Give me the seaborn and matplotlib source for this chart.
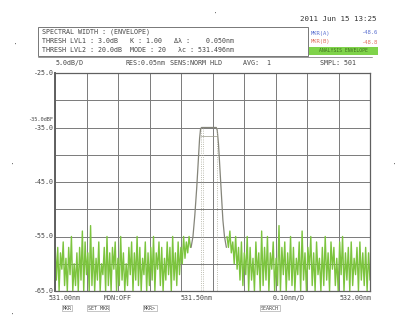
import numpy as np
import pandas as pd
import matplotlib.pyplot as plt
import seaborn as sns
from matplotlib.patches import Rectangle

# Trace levels (dBm), noise floor left and right of the line.
noise_left = [
    -56, -63, -57, -65, -58, -61, -56, -64, -59, -65,
    -57, -62, -55, -65, -60, -64, -58, -65, -57, -63,
    -54, -65, -56, -62, -58, -65, -53, -64, -57, -65,
    -59, -63, -56, -65, -60, -62, -57, -65, -55, -64,
    -58, -65, -57, -61, -56, -65, -59, -64, -55, -63,
    -58, -65, -60, -64, -57, -62, -56, -65, -58, -63,
    -55, -64, -57, -65, -59, -62, -56, -65, -58, -64,
    -57, -63, -55, -65, -58, -61, -56, -64, -57, -65,
    -59, -63, -56, -62, -57, -65, -55, -63, -58, -64,
    -56, -62, -57, -60, -55, -59, -56, -58, -55, -57,
]
noise_right = [
    -55, -57, -54, -58, -56, -60, -55, -61, -57, -63,
    -56, -64, -58, -62, -55, -65, -57, -63, -59, -65,
    -56, -62, -58, -65, -54, -64, -57, -63, -55, -65,
    -58, -61, -56, -65, -59, -64, -53, -65, -57, -62,
    -56, -65, -58, -63, -55, -64, -57, -65, -59, -62,
    -56, -65, -54, -63, -58, -65, -57, -61, -55, -64,
    -58, -65, -56, -62, -59, -65, -57, -64, -55, -63,
    -58, -65, -56, -61, -57, -64, -59, -65, -56, -62,
    -55, -65, -58, -63, -57, -65, -56, -64, -59, -62,
    -57, -65, -56, -63, -58, -64, -57, -65, -58, -63,
]
peak_wl = [531.432, 531.438, 531.444, 531.450, 531.455, 531.459, 531.462,
           531.465, 531.480, 531.500, 531.512, 531.515, 531.519, 531.523,
           531.528, 531.533, 531.538, 531.544]
peak_lvl = [-57, -55, -51, -46, -41, -37, -35.3,
            -35, -35, -35, -35, -35.5, -38, -42,
            -47, -52, -55, -57]

y_ticks = [-25, -35, -45, -55, -65]
y_ticklabels = ["-25.0", "-35.0", "-45.0", "-55.0", "-65.0"]
x_labels = ["531.00nm", "MON:OFF", "531.50nm", "0.10nm/D", "532.00nm"]

wl_left = np.linspace(531.0, 531.43, len(noise_left))
wl_right = np.linspace(531.546, 532.0, len(noise_right))

noise = pd.DataFrame({
    "wl": np.concatenate([wl_left, wl_right]),
    "lvl": noise_left + noise_right,
    "part": ["L"] * len(noise_left) + ["R"] * len(noise_right),
})
peak = pd.DataFrame({"wl": peak_wl, "lvl": peak_lvl})

sns.set_style("white")
plt.rcParams["font.family"] = ["DejaVu Sans Mono", "DejaVu Sans"]

fig = plt.figure(figsize=(4.09, 3.18), dpi=100)
ax = fig.add_axes([55 / 409, 27 / 318, 315 / 409, 218 / 318])

sns.lineplot(data=noise, x="wl", y="lvl", units="part", estimator=None, sort=False,
             color="#7cc43e", lw=1.0, ax=ax)
sns.lineplot(data=peak, x="wl", y="lvl", estimator=None, sort=False,
             color="#85857a", lw=0.9, ax=ax)

# spectral width marker lines
for w in [531.462, 531.471, 531.515]:
    ax.plot([w, w], [-35, -65], color="#a8a898", lw=0.6, ls=":")
ax.plot([531.462, 531.515], [-36.5, -36.5], color="#9a9a8a", lw=0.5)

ax.set_xlim(531.0, 532.0)
ax.set_ylim(-65, -25)
ax.set_xticks(np.linspace(531.0, 532.0, 11))
ax.set_yticks(np.linspace(-65, -25, 9))
ax.grid(True, color="#7a7a7a", lw=0.7)
ax.set_xticklabels([])
ax.set_yticklabels([])
ax.tick_params(length=0)
ax.set_xlabel("")
ax.set_ylabel("")
for s in ax.spines.values():
    s.set_color("#606060")
    s.set_linewidth(0.9)
ax.spines["left"].set_linewidth(1.4)

fs = 4.8
tc = "#444444"
for v, t in zip(y_ticks, y_ticklabels):
    ax.text(-0.005, v, t, transform=ax.get_yaxis_transform(), ha="right",
            va="center", fontsize=fs, color=tc)
ax.text(-0.005, -33.6, "-35.0dBF", transform=ax.get_yaxis_transform(), ha="right",
        va="center", fontsize=3.8, color=tc)

for xp, t in zip([65, 118, 197, 289, 356], x_labels):
    fig.text(xp / 409, 1 - 298 / 318, t, ha="center", va="center", fontsize=fs, color=tc)
for xp, t in zip([67, 98, 150, 270], ["MKR", "SET MKR", "MKR>", "SEARCH"]):
    fig.text(xp / 409, 1 - 308 / 318, t, ha="center", va="center", fontsize=3.6,
             color=tc, bbox=dict(boxstyle="square,pad=0.15", fc="white", ec="#999999", lw=0.4))

# header
fig.patches.append(Rectangle((38 / 409, 1 - 56 / 318), 270 / 409, 29 / 318,
                             transform=fig.transFigure, fill=False, ec="#777777", lw=0.7))
fig.text(42 / 409, 1 - 32 / 318, "SPECTRAL WIDTH : (ENVELOPE)", fontsize=fs, color=tc, va="center")
fig.text(42 / 409, 1 - 41 / 318, "THRESH LVL1 : 3.0dB   K : 1.00   \u0394\u03bb :    0.050nm",
         fontsize=fs, color=tc, va="center")
fig.text(42 / 409, 1 - 50 / 318, "THRESH LVL2 : 20.0dB  MODE : 20   \u03bbc : 531.496nm",
         fontsize=fs, color=tc, va="center")
fig.text(377 / 409, 1 - 19 / 318, "2011 Jun 15 13:25", fontsize=5.4, color="#333333",
         ha="right", va="center")
fig.text(311 / 409, 1 - 33 / 318, "MKR(A)", fontsize=4, color="#5a6fd0", va="center")
fig.text(377 / 409, 1 - 33 / 318, "-48.6", fontsize=4, color="#5a6fd0", va="center", ha="right")
fig.text(311 / 409, 1 - 42 / 318, "MKR(B)", fontsize=4, color="#e07060", va="center")
fig.text(377 / 409, 1 - 42 / 318, "-48.8", fontsize=4, color="#e07060", va="center", ha="right")
fig.patches.append(Rectangle((309 / 409, 1 - 55 / 318), 69 / 409, 8 / 318,
                             transform=fig.transFigure, fc="#7fd34a", ec="none"))
fig.text(343 / 409, 1 - 51 / 318, "ANALYSIS ENVELOPE", fontsize=3.4, color="#3d6e1d",
         ha="center", va="center")
fig.lines.append(plt.Line2D([38 / 409, 372 / 409], [1 - 57 / 318, 1 - 57 / 318],
                            transform=fig.transFigure, color="#888888", lw=0.6))
for xp, t in [(56, "5.0dB/D"), (125, "RES:0.05nm"), (170, "SENS:NORM HLD"),
              (243, "AVG:  1"), (320, "SMPL: 501")]:
    fig.text(xp / 409, 1 - 63 / 318, t, fontsize=fs, color=tc, va="center")

# punch marks
for xp, yp in [(15, 45), (215, 14), (12, 165), (395, 165), (12, 315)]:
    fig.text(xp / 409, 1 - yp / 318, "\u00b7", fontsize=6, color="#777777", ha="center", va="center")

fig.savefig("out.png", dpi=100)
